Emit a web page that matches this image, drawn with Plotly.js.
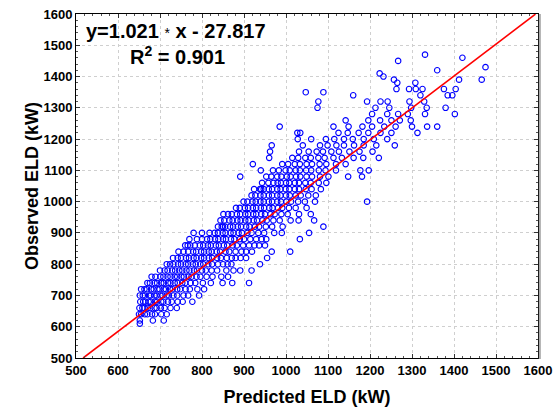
<!DOCTYPE html>
<html>
<head>
<meta charset="utf-8">
<script src="https://cdn.plot.ly/plotly-3.0.1.min.js"></script>
<style>html,body{margin:0;padding:0;background:#fff;}#chart{width:559px;height:407px;}</style>
</head>
<body>
<div id="chart"></div>
<script>
// Observed ELD levels (kW) and the predicted ELD (kW) of the points lying on each level
const observedLevels = [
 610,620,640,660,680,700,720,740,760,780,
 800,820,840,860,880,900,920,940,960,980,
 1000,1020,1040,1060,1080,1100,1120,1140,1160,1180,
 1200,1220,1240,1260,1280,1300,1320,1340,1350,1360,
 1380,1390,1400,1410,1420,1430,1450,1460,1470
];
const predictedAtLevel = [
 [652],
 [652,683,709],
 [650,655,664,670,681,688,703,716],
 [651,658,663,671,677,687,692,702,711,725,740],
 [653,660,665,673,678,688,693,703,708,719,728,742,754,777],
 [652,659,664,674,678,687,692,701,706,716,721,732,741,756,767,793],
 [655,663,669,679,685,694,699,709,714,724,730,741,748,761,771,789,805],
 [670,676,687,693,703,709,719,725,735,742,753,760,773,784,802,821,849,872,912],
 [680,689,701,708,718,725,735,741,751,757,768,775,787,796,811,825,846,862],
 [700,711,718,729,736,746,753,763,770,781,788,800,809,823,836,858,875,891,918],
 [716,724,732,743,750,761,767,778,785,796,803,815,824,838,850,861,870,938],
 [731,742,750,762,769,780,787,798,805,816,824,836,845,859,871,880,892,905,955],
 [744,756,767,779,786,798,805,816,823,835,843,856,865,880,894,905,919,966,1010],
 [760,766,772,783,795,803,814,821,833,840,852,860,873,883,898,912,925,936,950],
 [770,788,800,812,820,831,839,850,857,869,877,890,900,915,929,942,953,1033],
 [780,800,818,830,838,849,856,868,875,887,895,908,918,934,948,972,990,1055],
 [838,847,850,855,867,874,885,893,905,913,926,936,952,967,992,1089],
 [844,853,865,873,884,892,903,911,923,931,944,954,970,985,1011,1030,1067],
 [851,862,871,883,891,903,910,922,929,941,950,963,973,989,1004,1031,1059],
 [881,890,902,910,921,929,940,948,960,968,981,991,1007,1023,1049],
 [899,908,920,928,939,947,959,967,979,988,1001,1012,1029,1045,1069,1193],
 [918,927,939,947,959,967,979,987,1000,1009,1023,1035,1053,1071],
 [924,938,941,947,959,967,979,987,999,1008,1021,1031,1047,1061,1083],
 [943,958,970,980,988,1000,1008,1021,1031,1046,1059,1078,1096],
 [891,953,965,979,989,1002,1011,1024,1034,1049,1062,1081,1101,1148,1181],
 [940,969,983,999,1009,1023,1033,1048,1060,1078,1094,1119,1177,1197],
 [921,991,1005,1021,1033,1049,1062,1080,1096,1119,1142],
 [960,1015,1029,1046,1059,1077,1092,1113,1133,1161,1184,1221],
 [962,1031,1054,1073,1088,1108,1126,1151,1175,1206],
 [966,1040,1081,1099,1120,1138,1162,1185,1215,1259],
 [1028,1060,1095,1115,1138,1159,1185,1209,1241],
 [1027,1034,1125,1147,1173,1196,1225,1251,1313],
 [985,1113,1149,1182,1205,1234,1261,1300,1336,1360],
 [1142,1196,1224,1251,1271,1297],
 [1205,1241,1267,1290,1331,1402],
 [1075,1213,1246,1298,1335,1380],
 [1077,1193,1225,1242,1294,1329],
 [1160,1320,1385,1396],
 [1047,1089],
 [1263,1293,1309,1325,1376,1404],
 [1265,1308],
 [1257,1412,1466],
 [1232],
 [1223],
 [1360],
 [1475],
 [1267],
 [1420],
 [1331]
];
// Regression fit: y = slope * x + intercept
const fitSlope = 1.021;
const fitIntercept = -27.817;
const fitRangeX = [517, 1594];
const xTickVals = [500,600,700,800,900,1000,1100,1200,1300,1400,1500,1600];
const yTickVals = [500,600,700,800,900,1000,1100,1200,1300,1400,1500,1600];

const px = [], py = [];
observedLevels.forEach((lv, i) => {
  predictedAtLevel[i].forEach(p => { px.push(p); py.push(lv); });
});

const font = 'Liberation Sans, Arial, sans-serif';

const scatter = {
  x: px, y: py, type: 'scatter', mode: 'markers',
  marker: {symbol: 'circle-open', size: 5.5, color: '#0000ff', line: {width: 1.1, color: '#0000ff'}},
  hoverinfo: 'skip', showlegend: false
};
const fit = {
  x: fitRangeX, y: fitRangeX.map(v => fitSlope * v + fitIntercept),
  type: 'scatter', mode: 'lines', line: {color: '#ff0000', width: 1.6},
  hoverinfo: 'skip', showlegend: false
};

const axisCommon = {
  range: [500, 1600], autorange: false,
  showline: true, linecolor: '#000', linewidth: 1, mirror: 'allticks',
  ticks: 'inside', ticklen: 4, tickcolor: '#333', tickwidth: 1,
  showgrid: true, gridcolor: '#cfcfcf', griddash: 'dot', gridwidth: 1,
  zeroline: false,
  minor: {ticks: 'inside', ticklen: 2, dtick: 20, tickcolor: '#555', showgrid: false},
  tickfont: {family: font, size: 13, color: '#000', weight: 'bold'}
};

const layout = {
  width: 559, height: 407,
  margin: {l: 76, r: 21, t: 14, b: 49},
  paper_bgcolor: '#fff', plot_bgcolor: '#fff',
  xaxis: Object.assign({}, axisCommon, {
    tickvals: xTickVals, ticktext: xTickVals.map(String),
    title: {text: 'Predicted ELD (kW)', font: {family: font, size: 18, color: '#000', weight: 'bold'}, standoff: 13}
  }),
  yaxis: Object.assign({}, axisCommon, {
    tickvals: yTickVals, ticktext: yTickVals.map(String),
    title: {text: 'Observed ELD (kW)', font: {family: font, size: 18, color: '#000', weight: 'bold'}, standoff: 0}
  }),
  shapes: [
    {type: 'line', xref: 'paper', yref: 'paper', x0: 1.004, x1: 1.004, y0: -0.003, y1: 1,
     line: {color: '#aaaaaa', width: 2}}
  ],
  annotations: [
    {xref: 'paper', yref: 'paper', x: 0.216, y: 0.952, xanchor: 'center', yanchor: 'middle', showarrow: false,
     text: 'y=1.021 <span style="font-size:14px;font-weight:normal">*</span> x - 27.817',
     font: {family: font, size: 20, color: '#000', weight: 'bold'}},
    {xref: 'paper', yref: 'paper', x: 0.22, y: 0.878, xanchor: 'center', yanchor: 'middle', showarrow: false,
     text: 'R<sup>2</sup> = 0.901',
     font: {family: font, size: 20, color: '#000', weight: 'bold'}}
  ]
};

Plotly.newPlot('chart', [scatter, fit], layout, {displayModeBar: false, staticPlot: true});
</script>
</body>
</html>
